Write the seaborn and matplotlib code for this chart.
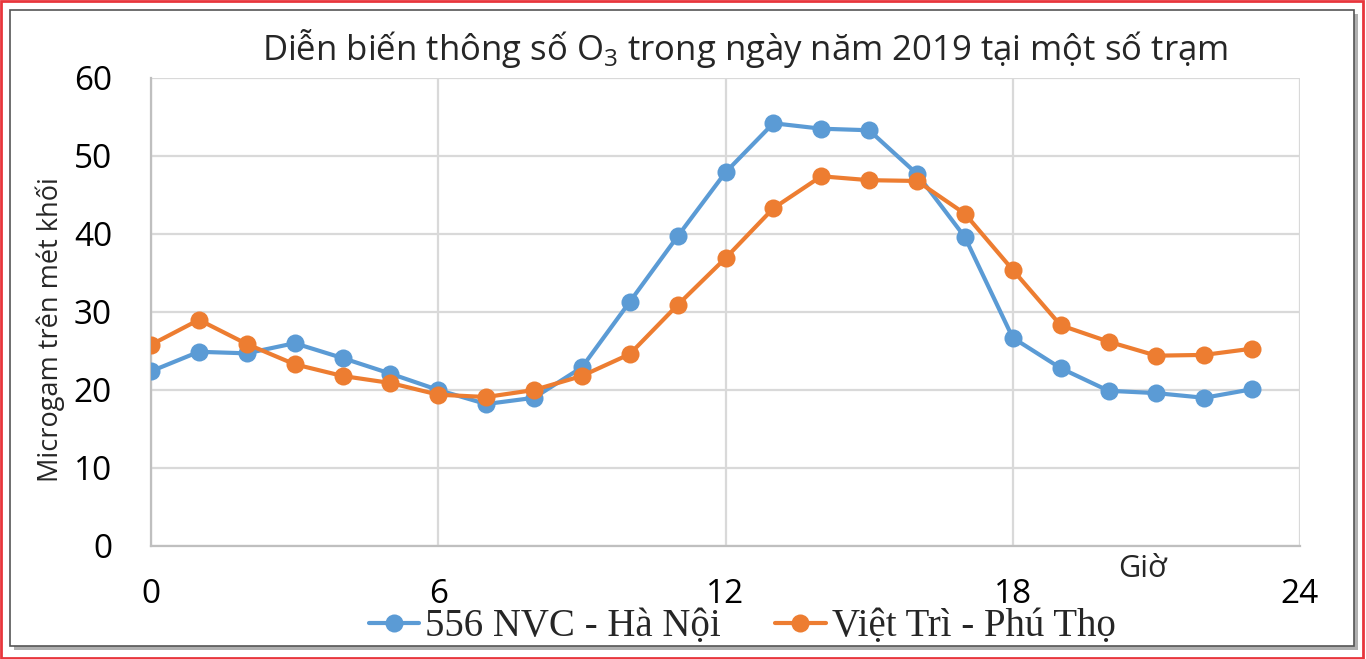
import matplotlib
matplotlib.use("Agg")
import matplotlib.pyplot as plt
from matplotlib.patches import Rectangle
from matplotlib.lines import Line2D
import seaborn as sns
import pandas as pd

hours = list(range(24))
hanoi = [22.4, 24.9, 24.7, 26.0, 24.1, 22.1, 20.0, 18.2, 19.0, 22.9, 31.3, 39.7,
         47.9, 54.2, 53.5, 53.3, 47.7, 39.6, 26.7, 22.8, 19.9, 19.6, 19.0, 20.1]
viettri = [25.8, 29.0, 25.9, 23.3, 21.8, 20.9, 19.4, 19.1, 20.0, 21.8, 24.6, 30.9,
           36.9, 43.3, 47.4, 46.9, 46.8, 42.6, 35.4, 28.3, 26.2, 24.4, 24.5, 25.3]
series_names = ["556 NVC - Hà Nội", "Việt Trì - Phú Thọ"]
colors = ["#5B9BD5", "#ED7D31"]
x_ticks = [0, 6, 12, 18, 24]
y_ticks = [0, 10, 20, 30, 40, 50, 60]
title = "Diễn biến thông số O$_3$ trong ngày năm 2019 tại một số trạm"
y_label = "Microgam trên mét khối"
x_label = "Giờ"

df = pd.DataFrame({
    "hour": hours * 2,
    "value": hanoi + viettri,
    "station": [series_names[0]] * 24 + [series_names[1]] * 24,
})

sns.set_theme(style="white")
plt.rcParams["font.family"] = ["Open Sans", "DejaVu Sans"]
plt.rcParams["mathtext.fontset"] = "custom"
plt.rcParams["mathtext.rm"] = "Open Sans"

fig = plt.figure(figsize=(13.66, 6.59), dpi=100)
ax = fig.add_axes([151 / 1366, 1 - 546 / 659, (1300 - 151) / 1366, (546 - 78) / 659])

sns.lineplot(data=df, x="hour", y="value", hue="station", palette=colors,
             marker="o", markersize=13, markeredgewidth=0, linewidth=3,
             ax=ax, legend=False, zorder=3)

ax.set_xlim(0, 24)
ax.set_ylim(0, 60)
ax.set_xticks(x_ticks)
ax.set_yticks(y_ticks)
ax.grid(True, color="#D9D9D9", linewidth=1.6, zorder=0)
ax.set_axisbelow(True)
for s in ["top", "right"]:
    ax.spines[s].set_visible(False)
for s in ["left", "bottom"]:
    ax.spines[s].set_color("#BFBFBF")
    ax.spines[s].set_linewidth(1.6)
ax.tick_params(axis="x", labelsize=24, pad=23, length=0, colors="black")
ax.tick_params(axis="y", labelsize=24, pad=28, length=0, colors="black")
ax.set_xlabel("")
ax.set_ylabel("")
fig.text(50 / 1366, 1 - 330 / 659, y_label, rotation=90, fontsize=19.5,
         ha="center", va="center")
fig.text(1143 / 1366, 1 - 569 / 659, x_label, fontsize=22,
         ha="center", va="center")

fig.text(745 / 1366, 1 - 48 / 659, title, fontsize=25, ha="center", va="center")

# frames
fig.patches.append(Rectangle((14 / 1366, 1 - 650 / 659), 1344 / 1366, 636 / 659,
                             transform=fig.transFigure, facecolor="#B0B0B0",
                             edgecolor="none", zorder=-3))
fig.patches.append(Rectangle((10 / 1366, 1 - 646 / 659), 1344 / 1366, 636 / 659,
                             transform=fig.transFigure, facecolor="white",
                             edgecolor="#555555", linewidth=1.2, zorder=-2))
fig.patches.append(Rectangle((0.001, 0.002), 0.997, 0.996, transform=fig.transFigure,
                             facecolor="none", edgecolor="#E8363C", linewidth=2, zorder=10))

handles = [Line2D([0], [0], color=c, linewidth=3, marker="o", markersize=13,
                  markeredgewidth=0) for c in colors]
fig.legend(handles, series_names, loc="center", bbox_to_anchor=(742 / 1366, 1 - 627 / 659),
           ncol=2, frameon=False, prop={"family": "Liberation Serif", "size": 28},
           handlelength=1.3, handletextpad=0.15, columnspacing=1.4,
           borderpad=0, borderaxespad=0)

fig.savefig("out.png", dpi=100)
